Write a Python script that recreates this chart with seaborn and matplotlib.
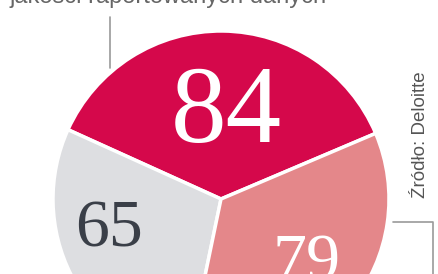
import matplotlib
matplotlib.use("Agg")
import matplotlib.pyplot as plt
import seaborn as sns

labels = ["84", "65", "79"]
values = [84, 65, 79]
colors = ["#D5084B", "#DDDEE1", "#E4878A"]
label_colors = ["white", "#3a3f48", "white"]
title_text = "jakości raportowanych danych"
source_text = "Źródło: Deloitte"

sns.set_theme(style="white")
plt.rcParams['font.family'] = ['Liberation Sans', 'DejaVu Sans']

W, H = 439, 274
fig = plt.figure(figsize=(W / 100, H / 100), dpi=100)
ax = fig.add_axes([0, 0, 1, 1])

cx, cy, r = 221, 75, 168
wedges, _ = ax.pie(values, colors=colors, startangle=23, counterclock=True,
                   center=(cx, cy), radius=r, frame=True,
                   wedgeprops=dict(edgecolor="white", linewidth=2.5))
ax.set_xlim(0, W)
ax.set_ylim(0, H)
ax.set_aspect('equal')
ax.axis('off')

label_pos = [(226, 159), (109, 44), (307, 10)]
label_sizes = [80, 49, 49]
for lab, (x, y), s, c in zip(labels, label_pos, label_sizes, label_colors):
    ax.text(x, y, lab, ha='center', va='center', fontsize=s, color=c,
            family=['Liberation Serif', 'DejaVu Serif'])

ax.text(10, 271, title_text, ha='left', va='baseline', fontsize=17,
        color="#666666")
ax.plot([110, 110], [257, 206], color="#9a9a9a", lw=1.2)
ax.plot([393, 433, 433], [52, 52, 0], color="#9a9a9a", lw=1.2)
ax.text(421, 139, source_text, rotation=90, ha='center', va='center',
        fontsize=13.5, color="#555555")

fig.savefig("out.png", dpi=100)
